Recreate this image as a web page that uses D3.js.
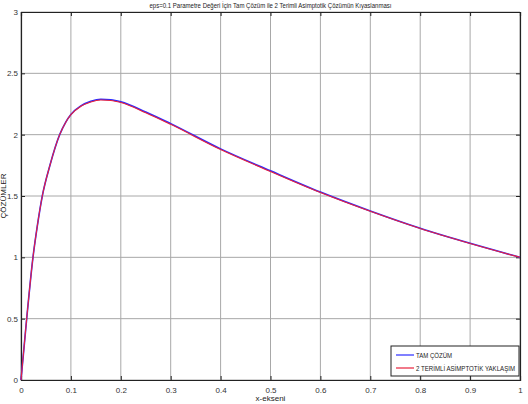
<!DOCTYPE html>
<html>
<head>
<meta charset="utf-8">
<script src="https://cdn.jsdelivr.net/npm/d3@7"></script>
<style>
  body { margin: 0; background: #fff; }
  svg { font-family: "Liberation Sans", Arial, sans-serif; }
</style>
</head>
<body>
<div id="vis"></div>
<script>
// x values and the two solutions
const xs       = [0, 0.0114, 0.024, 0.0325, 0.0427, 0.058, 0.0775, 0.09, 0.1, 0.12, 0.14, 0.16, 0.18, 0.2, 0.25, 0.3, 0.4, 0.5, 0.6, 0.7, 0.8, 0.9, 1.0];
const exact    = [0, 0.5, 1.0, 1.25, 1.5, 1.75, 2.0, 2.105, 2.165, 2.235, 2.272, 2.289, 2.285, 2.268, 2.185, 2.09, 1.884, 1.705, 1.532, 1.378, 1.237, 1.114, 1.0];
const asympt   = [0, 0.5, 1.0, 1.25, 1.5, 1.75, 2.0, 2.104, 2.163, 2.231, 2.267, 2.283, 2.279, 2.262, 2.179, 2.084, 1.879, 1.700, 1.528, 1.375, 1.235, 1.113, 1.0];
const x_ticks  = [0, 0.1, 0.2, 0.3, 0.4, 0.5, 0.6, 0.7, 0.8, 0.9, 1];
const y_ticks  = [0, 0.5, 1, 1.5, 2, 2.5, 3];
const series_names = ["TAM ÇÖZÜM", "2 TERİMLİ ASİMPTOTİK YAKLAŞIM"];

const frame_width = 528;
const frame_height = 404;
const margins = {left: 21, right: 8, top: 12, bottom: 24};

const x_scale = d3.scaleLinear()
    .domain([0, 1])
    .range([margins.left, frame_width - margins.right]);

const y_scale = d3.scaleLinear()
    .domain([0, 3])
    .range([frame_height - margins.bottom, margins.top]);

const svg = d3.select("#vis")
    .append("svg")
        .attr("width", frame_width)
        .attr("height", frame_height);

// grid
svg.append("g")
    .selectAll("line")
    .data(x_ticks)
    .enter()
    .append("line")
        .attr("x1", d => x_scale(d)).attr("x2", d => x_scale(d))
        .attr("y1", y_scale(0)).attr("y2", y_scale(3))
        .attr("stroke", "#a8a8a8").attr("stroke-width", 1);

svg.append("g")
    .selectAll("line")
    .data(y_ticks)
    .enter()
    .append("line")
        .attr("y1", d => y_scale(d)).attr("y2", d => y_scale(d))
        .attr("x1", x_scale(0)).attr("x2", x_scale(1))
        .attr("stroke", "#a8a8a8").attr("stroke-width", 1);

// axes, ticks pointing inward on all four sides
const tick_len = 4;
const xb = svg.append("g")
    .attr("transform", "translate(0," + y_scale(0) + ")")
    .call(d3.axisBottom(x_scale).tickValues(x_ticks).tickSize(-tick_len).tickPadding(7).tickFormat(d3.format("")));
const xt = svg.append("g")
    .attr("transform", "translate(0," + y_scale(3) + ")")
    .call(d3.axisTop(x_scale).tickValues(x_ticks).tickSize(-tick_len).tickFormat(""));
const yl = svg.append("g")
    .attr("transform", "translate(" + x_scale(0) + ",0)")
    .call(d3.axisLeft(y_scale).tickValues(y_ticks).tickSize(-tick_len).tickPadding(3).tickFormat(d3.format("")));
const yr = svg.append("g")
    .attr("transform", "translate(" + x_scale(1) + ",0)")
    .call(d3.axisRight(y_scale).tickValues(y_ticks).tickSize(-tick_len).tickFormat(""));

[xb, xt, yl, yr].forEach(g => {
    g.select(".domain").attr("stroke", "#222").attr("stroke-width", 1.2);
    g.selectAll(".tick line").attr("stroke", "#222");
    g.selectAll("text").attr("font-size", "8px").attr("fill", "#333")
        .attr("font-family", "'Liberation Sans', Arial, sans-serif");
});

// lines
const line_of = vals => d3.line()
    .x((d, i) => x_scale(xs[i]))
    .y(d => y_scale(d))
    .curve(d3.curveMonotoneX)(vals);

svg.append("path")
    .attr("d", line_of(exact))
    .attr("fill", "none")
    .attr("stroke", "#2b2bff")
    .attr("stroke-width", 1.6);

svg.append("path")
    .attr("d", line_of(asympt))
    .attr("fill", "none")
    .attr("stroke", "#e8203c")
    .attr("stroke-width", 1.1);

// labels (narrow text, like the original)
svg.append("text")
    .attr("x", (x_scale(0) + x_scale(1)) / 2)
    .attr("y", 8)
    .attr("text-anchor", "middle")
    .attr("font-size", "8px")
    .attr("fill", "#222")
    .attr("textLength", 242)
    .attr("lengthAdjust", "spacingAndGlyphs")
    .text("eps=0.1 Parametre Değeri İçin Tam Çözüm ile 2 Terimli Asimptotik Çözümün Kıyaslanması");

svg.append("text")
    .attr("x", (x_scale(0) + x_scale(1)) / 2)
    .attr("y", 401)
    .attr("text-anchor", "middle")
    .attr("font-size", "8px")
    .attr("fill", "#222")
    .text("x-ekseni");

svg.append("text")
    .attr("transform", "translate(6," + y_scale(1.5) + ") rotate(-90)")
    .attr("text-anchor", "middle")
    .attr("font-size", "8px")
    .attr("fill", "#222")
    .text("ÇÖZÜMLER");

// legend
const legend = svg.append("g").attr("transform", "translate(391,346)");
legend.append("rect")
    .attr("width", 128).attr("height", 30)
    .attr("fill", "#fff").attr("stroke", "#222").attr("stroke-width", 1);

const colors = ["#2b2bff", "#e8203c"];
const text_widths = [36, 99];
series_names.forEach((name, i) => {
    const y = 9 + i * 13;
    legend.append("line")
        .attr("x1", 5).attr("x2", 23).attr("y1", y).attr("y2", y)
        .attr("stroke", colors[i]).attr("stroke-width", 1.2);
    legend.append("text")
        .attr("x", 25).attr("y", y + 3)
        .attr("font-size", "7px")
        .attr("fill", "#222")
        .attr("textLength", text_widths[i])
        .attr("lengthAdjust", "spacingAndGlyphs")
        .text(name);
});
</script>
</body>
</html>
